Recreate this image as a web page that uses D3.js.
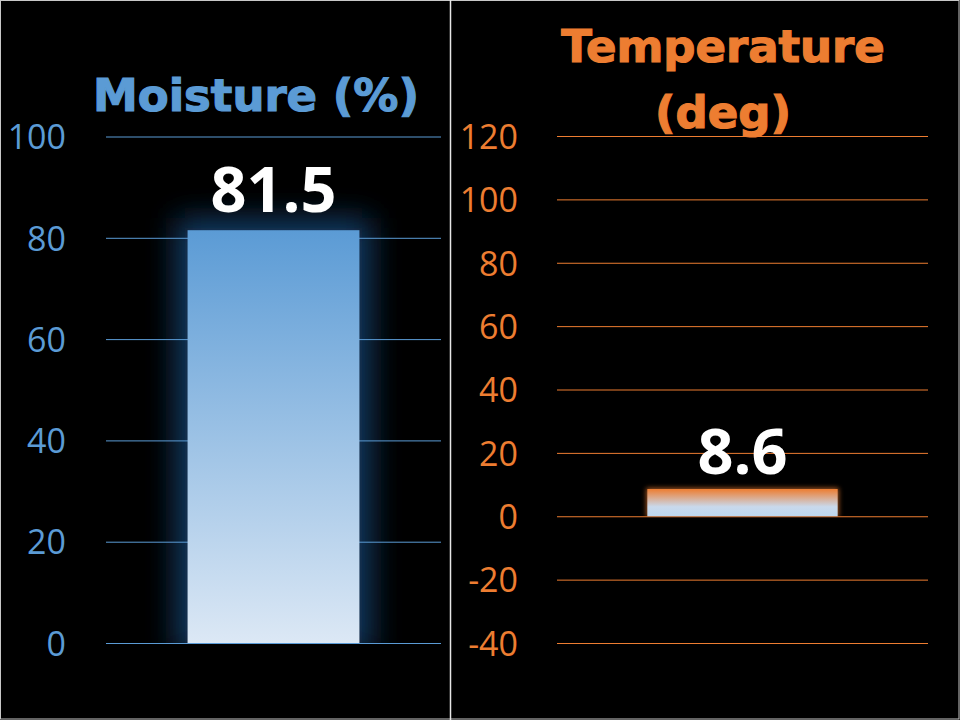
<!DOCTYPE html>
<html><head><meta charset="utf-8">
<script src="https://cdn.jsdelivr.net/npm/d3@7"></script>
<style>html,body{margin:0;padding:0;background:#000;}svg{display:block;}</style>
</head><body>
<script>
// ---- data ----
const moistureCategories = ["Moisture"];
const moistureValues = [81.5];
const moistureTicks = [0, 20, 40, 60, 80, 100];
const moistureTitle = ["Moisture (%)"];

const tempCategories = ["Temperature"];
const tempValues = [8.6];
const tempTicks = [-40, -20, 0, 20, 40, 60, 80, 100, 120];
const tempTitle = ["Temperature", "(deg)"];

const W = 960, H = 720;
const svg = d3.select("body").append("svg").attr("width", W).attr("height", H);
svg.append("rect").attr("width", W).attr("height", H).attr("fill", "#000");
const defs = svg.append("defs");

// gradients
const g1 = defs.append("linearGradient").attr("id", "gBlue").attr("x1", 0).attr("y1", 0).attr("x2", 0).attr("y2", 1);
g1.append("stop").attr("offset", "0%").attr("stop-color", "#5b9bd5");
g1.append("stop").attr("offset", "100%").attr("stop-color", "#dce8f5");
const g2 = defs.append("linearGradient").attr("id", "gOrange").attr("x1", 0).attr("y1", 0).attr("x2", 0).attr("y2", 1);
g2.append("stop").attr("offset", "0%").attr("stop-color", "#ed7d31");
g2.append("stop").attr("offset", "65%").attr("stop-color", "#c9d9ec");
g2.append("stop").attr("offset", "100%").attr("stop-color", "#bdd7ee");

const f1 = defs.append("filter").attr("id", "blurBig").attr("x", "-50%").attr("y", "-50%").attr("width", "200%").attr("height", "200%");
f1.append("feGaussianBlur").attr("stdDeviation", 15);
const f2 = defs.append("filter").attr("id", "blurSmall").attr("x", "-50%").attr("y", "-50%").attr("width", "200%").attr("height", "200%");
f2.append("feGaussianBlur").attr("stdDeviation", 2.5);

function panel(cfg) {
  const y = d3.scaleLinear().domain(cfg.domain).range([cfg.y0, cfg.y1]);
  const x = d3.scaleBand().domain(cfg.categories).range([cfg.x0, cfg.x1]).paddingInner(0.487).paddingOuter(0.2435);
  const g = svg.append("g");

  const clipId = "clip" + cfg.id;
  defs.append("clipPath").attr("id", clipId).append("rect")
    .attr("x", cfg.x0 - 80).attr("y", 0).attr("width", cfg.x1 - cfg.x0 + 160).attr("height", y(0));

  // glow
  g.append("g").attr("clip-path", `url(#${clipId})`).selectAll("rect.glow").data(cfg.values).join("rect")
    .attr("x", (d, i) => x(cfg.categories[i]) - cfg.glowPad)
    .attr("y", d => y(d) - cfg.glowPad)
    .attr("width", x.bandwidth() + 2 * cfg.glowPad)
    .attr("height", d => y(0) - y(d) + 2 * cfg.glowPad)
    .attr("fill", cfg.glowColor).attr("opacity", cfg.glowOpacity)
    .attr("filter", `url(#${cfg.glowFilter})`);

  // gridlines via axis
  const grid = g.append("g").attr("transform", `translate(${cfg.x0},0)`)
    .call(d3.axisRight(y).tickValues(cfg.ticks).tickSize(cfg.x1 - cfg.x0).tickFormat(""));
  grid.select(".domain").remove();
  grid.selectAll("line").attr("stroke", cfg.color).attr("stroke-width", 1);

  // tick labels via axis
  const ax = g.append("g").attr("transform", `translate(${cfg.labelX},0)`)
    .call(d3.axisLeft(y).tickValues(cfg.ticks).tickSize(0).tickPadding(0).tickFormat(d => String(d)));
  ax.select(".domain").remove();
  ax.selectAll("text").attr("fill", cfg.color).attr("font-family", "'Open Sans', sans-serif")
    .attr("font-size", 34).attr("dy", "0.36em");

  // bars
  g.selectAll("rect.bar").data(cfg.values).join("rect")
    .attr("x", (d, i) => x(cfg.categories[i]))
    .attr("y", d => y(d))
    .attr("width", x.bandwidth())
    .attr("height", d => y(0) - y(d))
    .attr("fill", `url(#${cfg.grad})`);

  // value labels
  g.selectAll("text.val").data(cfg.values).join("text")
    .attr("x", (d, i) => x(cfg.categories[i]) + x.bandwidth() / 2)
    .attr("y", d => y(d) - cfg.valGap)
    .attr("text-anchor", "middle").attr("fill", "#fff")
    .attr("font-family", "'Open Sans', sans-serif").attr("font-weight", 700).attr("font-size", 63)
    .text(d => d);

  // title
  g.selectAll("text.title").data(cfg.title).join("text")
    .attr("x", cfg.titleX).attr("y", (d, i) => cfg.titleY + i * 66)
    .attr("text-anchor", "middle").attr("fill", cfg.color)
    .attr("stroke", cfg.color).attr("stroke-width", 1.2)
    .attr("font-family", "'DejaVu Sans', Verdana, sans-serif").attr("font-weight", 700).attr("font-size", 45)
    .text(d => d);
}

panel({
  id: "m", categories: moistureCategories, values: moistureValues, ticks: moistureTicks,
  domain: [0, 100], y0: 643, y1: 136.5, x0: 106, x1: 441, labelX: 66,
  color: "#5b9bd5", grad: "gBlue", glowColor: "#173f6a", glowOpacity: 0.95, glowPad: 12, glowFilter: "blurBig",
  valGap: 18, title: moistureTitle, titleX: 256, titleY: 111
});
panel({
  id: "t", categories: tempCategories, values: tempValues, ticks: tempTicks,
  domain: [-40, 120], y0: 643, y1: 136, x0: 557, x1: 928, labelX: 518,
  color: "#ed7d31", grad: "gOrange", glowColor: "#ed7d31", glowOpacity: 0.7, glowPad: 1, glowFilter: "blurSmall",
  valGap: 15, title: tempTitle, titleX: 723, titleY: 62
});

// frame / separator
svg.append("rect").attr("x", 0.5).attr("y", 0.5).attr("width", W - 1.5).attr("height", H - 1.5)
  .attr("fill", "none").attr("stroke", "#c8c8c8").attr("stroke-width", 1);
svg.append("line").attr("x1", 450.5).attr("x2", 450.5).attr("y1", 0).attr("y2", H)
  .attr("stroke", "#e6e6e6").attr("stroke-width", 1.5);
</script>
</body></html>
